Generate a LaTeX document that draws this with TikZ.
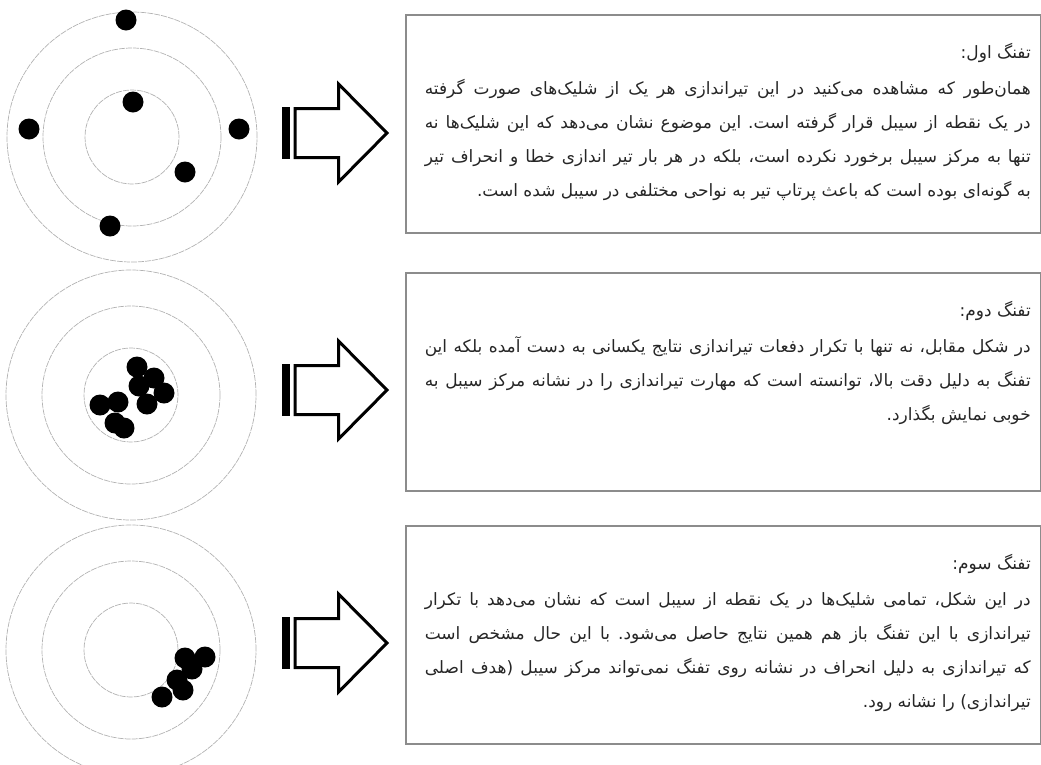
\documentclass[tikz,border=0pt]{standalone}
\usepackage{fontspec}
\newfontfamily\persianfont[Script=Arabic]{DejaVu Sans}
\TeXXeTstate=1
\frenchspacing
\usepackage{tikz}
\usetikzlibrary{positioning}

\begin{document}
\begin{tikzpicture}[x=1pt, y=-1pt,
   ring/.style={circle, draw=gray!60, line width=0.7pt, dash pattern=on 6pt off 1pt, inner sep=0pt, minimum size=#1},
   shot/.style={circle, fill=black, inner sep=0pt, minimum size=21pt},
   panel/.style={rectangle, draw=gray!90, line width=2pt, anchor=north west, inner sep=0pt,
                 minimum width=635pt, minimum height=218pt},
   heading/.style={anchor=base east, inner sep=0pt, text=black!85,
                   font=\persianfont\fontsize{17}{20}\selectfont},
   blockarrow/.style={draw=black, line width=3pt, fill=white}]

  \useasboundingbox (0,0) rectangle (1041,764);
  \clip (0,0) rectangle (1041,764);

  \node [ring=250pt] (t1) at (132,137) {};
  \node [ring=178pt] (t1m) at (t1.center) {};
  \node [ring=94pt] (t1i) at (t1.center) {};
  \node [shot] (s11) at (126,20) {};
  \node [shot] (s12) at (133,102) {};
  \node [shot] (s13) at (29,129) {};
  \node [shot] (s14) at (239,129) {};
  \node [shot] (s15) at (185,172) {};
  \node [shot] (s16) at (110,226) {};

  \node [ring=250pt] (t2) at (131,395) {};
  \node [ring=178pt] (t2m) at (t2.center) {};
  \node [ring=94pt] (t2i) at (t2.center) {};
  \node [shot] (s21) at (137,367) {};
  \node [shot] (s22) at (154,378) {};
  \node [shot] (s23) at (139,386) {};
  \node [shot] (s24) at (164,393) {};
  \node [shot] (s25) at (147,404) {};
  \node [shot] (s26) at (100,405) {};
  \node [shot] (s27) at (118,402) {};
  \node [shot] (s28) at (115,423) {};
  \node [shot] (s29) at (124,428) {};

  \node [ring=250pt] (t3) at (131,650) {};
  \node [ring=178pt] (t3m) at (t3.center) {};
  \node [ring=94pt] (t3i) at (t3.center) {};
  \node [shot] (s31) at (205,657) {};
  \node [shot] (s32) at (185,658) {};
  \node [shot] (s33) at (192,669) {};
  \node [shot] (s34) at (177,680) {};
  \node [shot] (s35) at (183,690) {};
  \node [shot] (s36) at (162,697) {};

  \coordinate (a1) at (282,133);
  \coordinate (a2) at (282,390);
  \coordinate (a3) at (282,643);
  \draw [blockarrow] (a1) ++(13,-24.5) -- ++(43.5,0) -- ++(0,-24.5) -- ++(48.5,49) -- ++(-48.5,49) -- ++(0,-24.5) -- ++(-43.5,0) -- cycle;
  \fill (a1) ++(0,-26) rectangle ++(8,52);
  \draw [blockarrow] (a2) ++(13,-24.5) -- ++(43.5,0) -- ++(0,-24.5) -- ++(48.5,49) -- ++(-48.5,49) -- ++(0,-24.5) -- ++(-43.5,0) -- cycle;
  \fill (a2) ++(0,-26) rectangle ++(8,52);
  \draw [blockarrow] (a3) ++(13,-24.5) -- ++(43.5,0) -- ++(0,-24.5) -- ++(48.5,49) -- ++(-48.5,49) -- ++(0,-24.5) -- ++(-43.5,0) -- cycle;
  \fill (a3) ++(0,-26) rectangle ++(8,52);

  \node [panel] (box1) at (405,14) {};
  \node [heading] (h1) at (1031,58) {\beginR تفنگ اول:\endR};
  \node [heading] (l11) at (1031,94) {\makebox[606pt][s]{\beginR همان‌طور که مشاهده می‌کنید در این تیراندازی هر یک از شلیک‌های صورت گرفته\endR}};
  \node [heading] (l12) at (1031,128) {\makebox[606pt][s]{\beginR در یک نقطه از سیبل قرار گرفته است. این موضوع نشان می‌دهد که این شلیک‌ها نه\endR}};
  \node [heading] (l13) at (1031,162) {\makebox[606pt][s]{\beginR تنها به مرکز سیبل برخورد نکرده است، بلکه در هر بار تیر اندازی خطا و انحراف تیر\endR}};
  \node [heading] (l14) at (1031,196) {\beginR به گونه‌ای بوده است که باعث پرتاپ تیر به نواحی مختلفی در سیبل شده است.\endR};

  \node [panel] (box2) at (405,272) {};
  \node [heading] (h2) at (1031,316) {\beginR تفنگ دوم:\endR};
  \node [heading] (l21) at (1031,352) {\makebox[606pt][s]{\beginR در شکل مقابل، نه تنها با تکرار دفعات تیراندازی نتایج یکسانی به دست آمده بلکه این\endR}};
  \node [heading] (l22) at (1031,386) {\makebox[606pt][s]{\beginR تفنگ به دلیل دقت بالا، توانسته است که مهارت تیراندازی را در نشانه مرکز سیبل به\endR}};
  \node [heading] (l23) at (1031,420) {\beginR خوبی نمایش بگذارد.\endR};

  \node [panel] (box3) at (405,525) {};
  \node [heading] (h3) at (1031,569) {\beginR تفنگ سوم:\endR};
  \node [heading] (l31) at (1031,605) {\makebox[606pt][s]{\beginR در این شکل، تمامی شلیک‌ها در یک نقطه از سیبل است که نشان می‌دهد با تکرار\endR}};
  \node [heading] (l32) at (1031,639) {\makebox[606pt][s]{\beginR تیراندازی با این تفنگ باز هم همین نتایج حاصل می‌شود. با این حال مشخص است\endR}};
  \node [heading] (l33) at (1031,673) {\makebox[606pt][s]{\beginR که تیراندازی به دلیل انحراف در نشانه روی تفنگ نمی‌تواند مرکز سیبل (هدف اصلی\endR}};
  \node [heading] (l34) at (1031,707) {\beginR تیراندازی) را نشانه رود.\endR};
\end{tikzpicture}
\end{document}
